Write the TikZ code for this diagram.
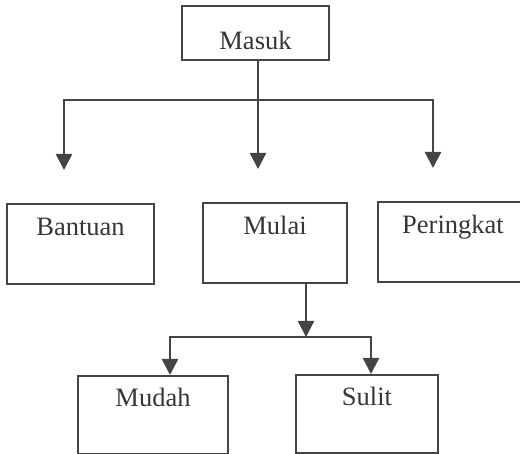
\documentclass[tikz,border=0pt]{standalone}
\usepackage{fontspec}
\setmainfont{Liberation Serif}
\usetikzlibrary{arrows.meta}
\definecolor{ink}{RGB}{68,68,68}
\begin{document}
\begin{tikzpicture}[
        x=1pt, y=-1pt,
        box/.style={draw=ink, line width=2pt, minimum width=#1, minimum height=80pt, inner sep=0pt,
            text=ink!80!black, font=\fontsize{26.5}{30}\selectfont, text height=18pt, text depth=35pt},
        link/.style={draw=ink, line width=2.4pt, line cap=rect},
        arrow/.style={draw=ink, line width=2.4pt, -{Triangle[length=16pt, width=16pt]}}
    ]
        \useasboundingbox (0,0) rectangle (520,454);

        \node[box=147pt, minimum height=54pt, text height=35pt, text depth=2pt] (masuk) at (255.5, 33) {Masuk};

        \node[box=147pt] (bantuan) at (80.5, 244) {Bantuan};
        \node[box=144pt] (mulai) at (275, 243) {Mulai};
        \node[box=150pt] (peringkat) at (453, 242.5) {Peringkat};

        \node[box=150pt, minimum height=78pt] (mudah) at (153, 415) {Mudah};
        \node[box=142pt, minimum height=78pt] (sulit) at (367, 414) {Sulit};

        % cabang dari Masuk
        \coordinate (split) at (258, 100);
        \coordinate (splitL) at (64, 100);
        \coordinate (splitR) at (433, 100);
        \coordinate (tipB) at (64, 170);
        \coordinate (tipM) at (258, 169);
        \coordinate (tipP) at (433, 168);

        \draw[link] (masuk.south -| split) -- (split);
        \draw[link] (splitL) -- (splitR);
        \draw[arrow] (split) -- (tipM);
        \draw[arrow] (splitL) -- (tipB);
        \draw[arrow] (splitR) -- (tipP);

        % cabang dari Mulai
        \coordinate (fork) at (306, 337);
        \coordinate (forkL) at (170, 337);
        \coordinate (forkR) at (371, 337);

        \draw[arrow] (mulai.south -| fork) -- (fork);
        \draw[link] (forkL) -- (forkR);
        \draw[arrow] (forkL) -- (forkL |- mudah.north);
        \draw[arrow] (forkR) -- (forkR |- sulit.north);
    \end{tikzpicture}
\end{document}
